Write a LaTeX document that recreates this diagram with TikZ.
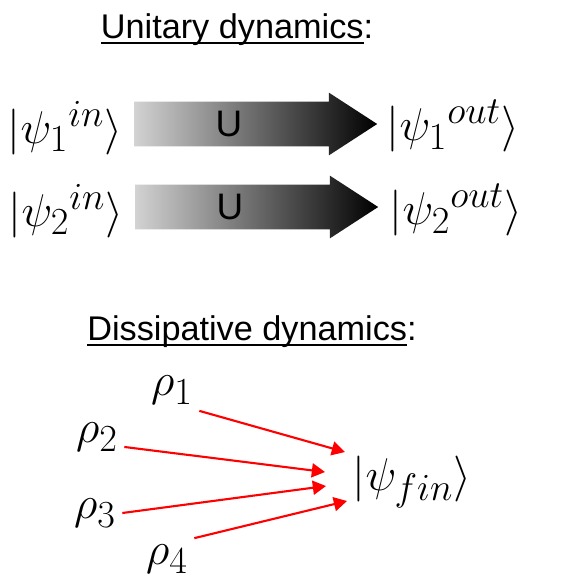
\documentclass[tikz,border=0pt]{standalone}
\usepackage{amsmath}
\usepackage{fontspec}
\setsansfont{Liberation Sans}
\usetikzlibrary{shapes.arrows,arrows.meta}

\begin{document}
\begin{tikzpicture}[x=0.02cm,y=-0.02cm,
  ttl/.style={font=\sffamily\fontsize{19.5}{23}\selectfont,anchor=base},
  ket/.style={font=\Huge,scale=1.05},
  gate/.style={single arrow,draw=none,left color=gray!35,middle color=gray!80,right color=black,
    single arrow head extend=0.18cm,single arrow tip angle=66,minimum height=4.86cm,
    text height=0.44cm,text depth=0cm,inner ysep=0.22cm,inner xsep=0pt,
    font=\sffamily\fontsize{18}{22}\selectfont},
  gtxt/.style={font=\sffamily\fontsize{21}{24}\selectfont,inner sep=0pt},
  a/.style={-{Triangle[length=7.5pt,width=8pt]},red,line width=1.2pt}]
  \useasboundingbox (0,0) rectangle (571,583);
  % unitary part
  \node[ttl] (ut) at (237,38) {\underline{\raisebox{0pt}[\height][0pt]{Unitary dynamics}}:};
  \node[ket] (in1) at (65,128) {$|\psi_1{}^{in}\rangle$};
  \node[ket] (in2) at (66,211) {$|\psi_2{}^{in}\rangle$};
  \node[gate] (u1) at (238.5,124) {\phantom{U}};
  \node[gate] (u2) at (239.5,207) {\phantom{U}};
  \node[gtxt] (lu1) at (229,124) {U};
  \node[gtxt] (lu2) at (230,207) {U};
  \node[ket] (out1) at (453,126) {$|\psi_1{}^{out}\rangle$};
  \node[ket] (out2) at (456,210) {$|\psi_2{}^{out}\rangle$};
  % dissipative part
  \node[ttl] (dt) at (252,340) {\underline{\raisebox{0pt}[\height][0pt]{Dissipative dynamics}}:};
  \node[ket] (r1) at (172,390) {$\rho_1$};
  \node[ket] (r2) at (97,437) {$\rho_2$};
  \node[ket] (r3) at (95,513) {$\rho_3$};
  \node[ket] (r4) at (167,559) {$\rho_4$};
  \node[ket] (fin) at (412,482) {$|\psi_{fin}\rangle$};
  \coordinate (e1) at (345,452);
  \coordinate (e2) at (325,472);
  \coordinate (e3) at (326,486);
  \coordinate (e4) at (347,501);
  \draw[a] (r1.south east) -- (e1);
  \draw[a] (r2.-20) -- (e2);
  \draw[a] (r3.east) -- (e3);
  \draw[a] (r4.north east) -- (e4);
\end{tikzpicture}
\end{document}
